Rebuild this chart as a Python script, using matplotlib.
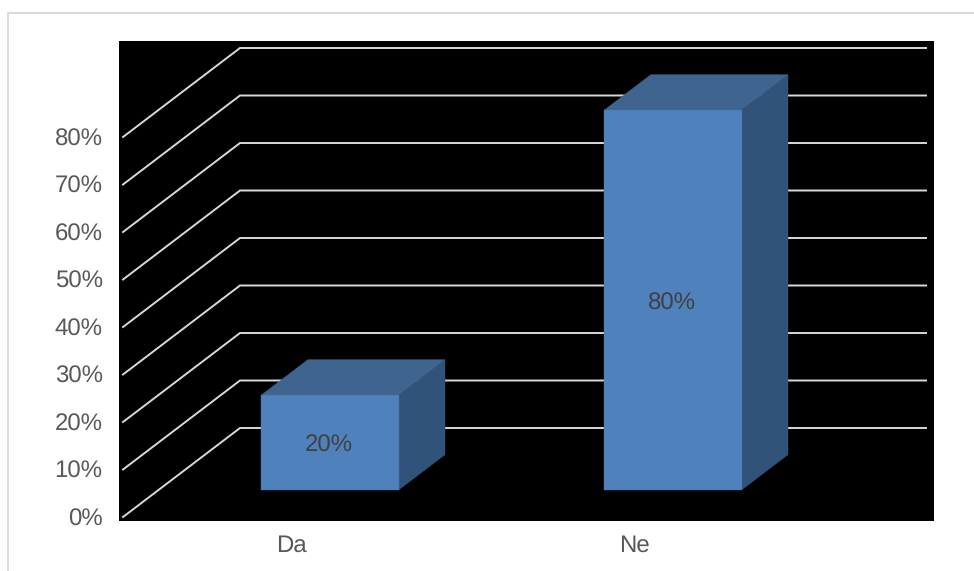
import matplotlib
matplotlib.use('Agg')
import matplotlib.pyplot as plt
from matplotlib.lines import Line2D
from matplotlib.patches import Polygon

# data
categories = ['Da', 'Ne']
values = [20, 80]
y_ticks = [0, 10, 20, 30, 40, 50, 60, 70, 80]

# 3d look: how far the back wall is shifted, in data units
depth_x = 117 / 343
depth_y = 89 / 4.75
bar_width = 0.4
bar_front = 0.303
bar_back = 0.70

plt.rcParams['font.family'] = ['Liberation Sans', 'DejaVu Sans']
plt.rcParams['text.hinting'] = 'none'
plt.rcParams['text.hinting_factor'] = 1

W, H = 974, 571
fig = plt.figure(figsize=(W / 100, H / 100), dpi=100)
ax = fig.add_axes([119 / W, 1 - 521 / H, (934 - 119) / W, (521 - 41) / H])
ax.set_facecolor('black')
for s in ax.spines.values():
    s.set_visible(False)
ax.set_xlim(-175.5 / 343, 639.5 / 343)
ax.set_ylim(-4 / 4.75, 476 / 4.75)


def shift(x, y, d):
    return (x + d * depth_x, y + d * depth_y)


# walls / gridlines
for v in y_ticks:
    p0 = shift(-0.5, v, 0)
    p1 = shift(-0.5, v, 1)
    p2 = shift(1.5, v, 1)
    ax.plot([p0[0], p1[0], p2[0]], [p0[1], p1[1], p2[1]], color='#D9D9D9',
            lw=1.4, zorder=1, solid_joinstyle='miter')

# bars
for i, v in enumerate(values):
    l = i - bar_width / 2
    r = i + bar_width / 2
    front = [shift(l, 0, bar_front), shift(r, 0, bar_front),
             shift(r, v, bar_front), shift(l, v, bar_front)]
    top = [shift(l, v, bar_front), shift(r, v, bar_front),
           shift(r, v, bar_back), shift(l, v, bar_back)]
    side = [shift(r, 0, bar_front), shift(r, 0, bar_back),
            shift(r, v, bar_back), shift(r, v, bar_front)]
    ax.add_patch(Polygon(side, closed=True, fc='#325379', ec='#325379', lw=0.3, zorder=2))
    ax.add_patch(Polygon(top, closed=True, fc='#3F648F', ec='#3F648F', lw=0.3, zorder=2))
    ax.add_patch(Polygon(front, closed=True, fc='#4F81BD', ec='#44709F', lw=0.3, zorder=3))
    cx, cy = shift(i, v / 2, bar_front)
    ax.annotate(f'{v}%', (cx, cy), xytext=(-0.5, -2.2), textcoords='offset points',
                color='#404040', fontsize=17.4, ha='center', va='center', zorder=4)

ax.set_yticks(y_ticks)
ax.set_yticklabels([f'{v}%' for v in y_ticks])
ax.set_xticks([-0.009, 0.991])
ax.set_xticklabels(categories)
ax.tick_params(axis='y', length=0, pad=11.8, labelsize=17.4, labelcolor='#595959')
ax.tick_params(axis='x', length=0, pad=9.8, labelsize=17.4, labelcolor='#595959')

# outer chart border, cut by the image edge
fig.add_artist(Line2D([8 / W, 8 / W, 1], [0, 1 - 12.5 / H, 1 - 12.5 / H],
                      color='#D9D9D9', lw=1.4))

fig.savefig('out.png', dpi=100)
